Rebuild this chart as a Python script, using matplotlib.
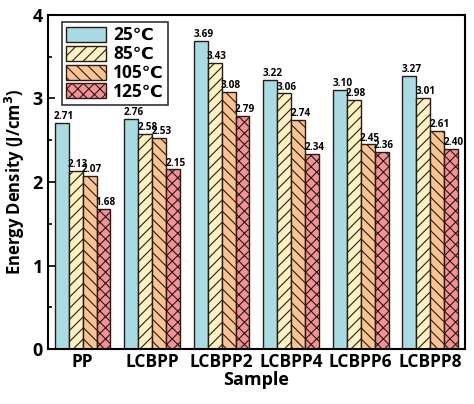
import numpy as np
import matplotlib.pyplot as plt

plt.rcParams['font.family'] = ['Open Sans', 'DejaVu Sans']
plt.rcParams['font.weight'] = 'bold'
plt.rcParams['hatch.linewidth'] = 0.8

samples = ["PP", "LCBPP", "LCBPP2", "LCBPP4", "LCBPP6", "LCBPP8"]
temps = ["25\u2103", "85\u2103", "105\u2103", "125\u2103"]
e25 = [2.71, 2.76, 3.69, 3.22, 3.10, 3.27]
e85 = [2.13, 2.58, 3.43, 3.06, 2.98, 3.01]
e105 = [2.07, 2.53, 3.08, 2.74, 2.45, 2.61]
e125 = [1.68, 2.15, 2.79, 2.34, 2.36, 2.40]

series = [e25, e85, e105, e125]
colors = ["#a8dbe3", "#fff3c4", "#f9c394", "#f29196"]
hatches = ["", "///", "\\\\\\", "xxx"]

fig = plt.figure(figsize=(4.74, 4.04), dpi=100)
ax = fig.add_axes([0.101, 0.136, 0.88, 0.827])

x = np.arange(len(samples))
w = 0.2
for i, (vals, c, h, lab) in enumerate(zip(series, colors, hatches, temps)):
    pos = x + (i - 1.5) * w
    bars = ax.bar(pos, vals, width=w, color=c, edgecolor="#2b1a10",
                  linewidth=1.0, hatch=h, label=lab)
    for b, v in zip(bars, vals):
        ax.text(b.get_x() - 0.01, v + 0.01, f"{v:.2f}",
                ha="left", va="bottom", fontsize=7.2, fontweight="bold")

ax.set_xlim(-0.5, 5.5)
ax.set_ylim(0, 4)
ax.set_yticks([0, 1, 2, 3, 4])
ax.set_yticks([0.5, 1.5, 2.5, 3.5], minor=True)
ax.set_xticks(x)
ax.set_xticklabels(samples, fontsize=12.5, fontweight="bold")
ax.tick_params(axis="y", direction="in", labelsize=13, width=1.2, length=5)
ax.tick_params(axis="y", which="minor", direction="in", width=1.2, length=3)
ax.tick_params(axis="x", length=0, pad=3)
for s in ax.spines.values():
    s.set_linewidth(1.5)

ax.set_xlabel("Sample", fontsize=13, fontweight="bold", labelpad=0)
ax.set_ylabel("Energy Density (J/cm$^3$)", fontsize=12, fontweight="bold")

leg = ax.legend(loc="upper left", bbox_to_anchor=(0.034, 0.979),
                fontsize=12.5, frameon=True, fancybox=False,
                edgecolor="black", handlelength=2.3, handleheight=0.95,
                borderpad=0.25, labelspacing=0.05, handletextpad=0.4,
                borderaxespad=0)
leg.get_frame().set_linewidth(1.2)

fig.savefig("out.png", dpi=100)
